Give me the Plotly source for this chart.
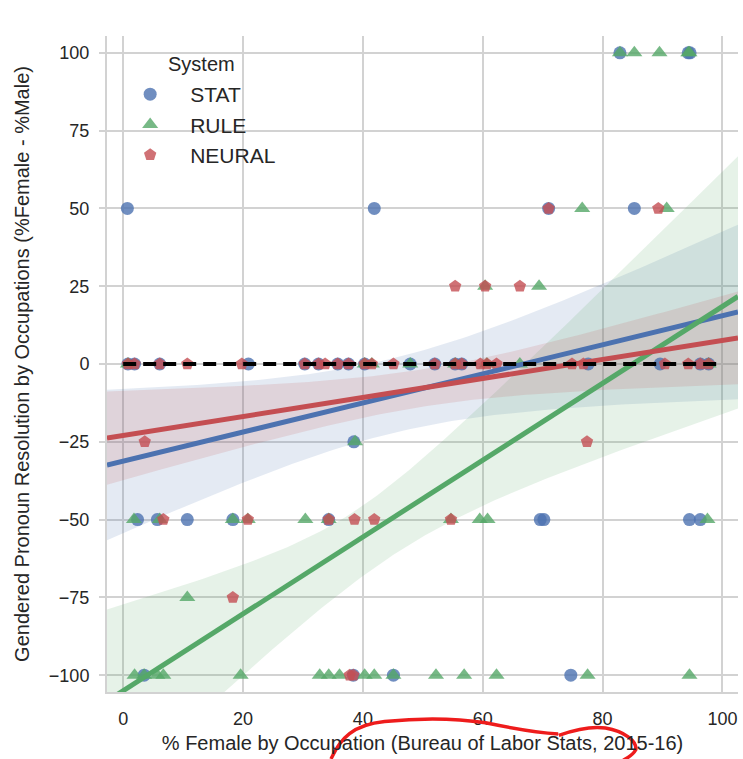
import numpy as np
import plotly.graph_objects as go

# ---------------- data ----------------
systems = ["STAT", "RULE", "NEURAL"]
legend_title = "System"

stat_x = [82.9, 94.3, 94.6,
          0.7, 41.9, 71.0, 85.3,
          0.8, 1.9, 6.1, 20.9, 30.3, 32.6, 35.8, 37.6, 40.3, 47.9, 52.0, 55.4, 56.5, 77.6, 89.6, 96.3, 97.7,
          38.5,
          2.4, 5.7, 10.7, 18.3, 34.3, 69.6, 70.2, 94.5, 96.3,
          3.5, 38.4, 45.1, 74.7]
stat_y = [100, 100, 100,
          50, 50, 50, 50,
          0, 0, 0, 0, 0, 0, 0, 0, 0, 0, 0, 0, 0, 0, 0, 0, 0,
          -25,
          -50, -50, -50, -50, -50, -50, -50, -50, -50,
          -100, -100, -100, -100]

rule_x = [82.9, 85.3, 89.5, 94.3, 94.5,
          76.6, 90.7,
          60.4, 69.4,
          0.8, 40.3, 41.5, 47.9, 55.4, 60.7, 66.2, 97.7,
          38.7,
          1.8, 6.1, 18.3, 20.8, 30.4, 34.3, 54.7, 59.5, 60.8, 97.5,
          10.7,
          1.9, 3.5, 5.7, 6.7, 19.6, 32.8, 34.3, 36.1, 40.3, 41.9, 45.1, 52.2, 56.9, 62.3, 77.5, 94.5]
rule_y = [100, 100, 100, 100, 100,
          50, 50,
          25, 25,
          0, 0, 0, 0, 0, 0, 0, 0,
          -25,
          -50, -50, -50, -50, -50, -50, -50, -50, -50, -50,
          -75,
          -100, -100, -100, -100, -100, -100, -100, -100, -100, -100, -100, -100, -100, -100, -100, -100]

neural_x = [71.0, 89.3,
            55.4, 60.4, 66.2,
            0.8, 1.9, 6.1, 10.7, 19.8, 30.3, 32.6, 33.7, 35.8, 37.6, 40.3, 41.5, 45.1, 52.0, 55.4, 56.5,
            59.6, 60.7, 62.3, 74.9, 76.8, 90.4, 94.3, 96.3, 97.7,
            3.6, 77.4,
            6.7, 20.8, 34.3, 38.6, 41.9, 54.7,
            18.3,
            37.8, 38.4]
neural_y = [50, 50,
            25, 25, 25,
            0, 0, 0, 0, 0, 0, 0, 0, 0, 0, 0, 0, 0, 0, 0, 0,
            0, 0, 0, 0, 0, 0, 0, 0, 0,
            -25, -25,
            -50, -50, -50, -50, -50, -50,
            -75,
            -100, -100]

# regression fit: intercept, slope
fit_intercept = [-31.2, -105.0, -23.0]
fit_slope = [0.467, 1.235, 0.306]
# confidence band (upper / lower edge): centre, min half-width, growth
band_up_center = [45.0, 38.0, 50.0]
band_up_min = [12.0, 10.0, 6.0]
band_up_growth = [0.44, 0.68, 0.26]
band_lo_center = [45.0, 46.0, 50.0]
band_lo_min = [12.0, 12.0, 6.0]
band_lo_growth = [0.44, 0.60, 0.26]

ref_line_x = [0, 100]
ref_line_y = [0, 0]

x_range = [-2.7, 102.6]
y_range = [-105.4, 105.4]
x_ticks = [0, 20, 40, 60, 80, 100]
y_ticks = [100, 75, 50, 25, 0, -25, -50, -75, -100]

colors = ["#4C72B0", "#55A868", "#C44E52"]
symbols = ["circle", "triangle-up", "pentagon"]
sizes = [13, 14, 13]
fills = ["rgba(76,114,176,0.15)", "rgba(85,168,104,0.15)", "rgba(196,78,82,0.15)"]

xs_data = [stat_x, rule_x, neural_x]
ys_data = [stat_y, rule_y, neural_y]

FONT = "Liberation Sans, Arial, sans-serif"
fig = go.Figure()

xg = np.linspace(x_range[0], x_range[1], 120)
lines = []
for i, name in enumerate(systems):
    line = fit_intercept[i] + fit_slope[i] * xg
    lines.append(line)
    hw_up = np.sqrt(band_up_min[i] ** 2 + (band_up_growth[i] * (xg - band_up_center[i])) ** 2)
    hw_lo = np.sqrt(band_lo_min[i] ** 2 + (band_lo_growth[i] * (xg - band_lo_center[i])) ** 2)
    fig.add_trace(go.Scatter(
        x=np.concatenate([xg, xg[::-1]]),
        y=np.concatenate([line + hw_up, (line - hw_lo)[::-1]]),
        fill="toself", fillcolor=fills[i], line=dict(width=0), mode="lines",
        hoverinfo="skip", showlegend=False))

for i, name in enumerate(systems):
    fig.add_trace(go.Scatter(
        x=xs_data[i], y=ys_data[i], mode="markers", name=name,
        marker=dict(symbol=symbols[i], size=sizes[i], color=colors[i], opacity=0.8,
                    line=dict(width=0)),
        showlegend=True))

for i, name in enumerate(systems):
    fig.add_trace(go.Scatter(
        x=xg, y=lines[i], mode="lines", line=dict(color=colors[i], width=5),
        showlegend=False))

fig.add_trace(go.Scatter(
    x=ref_line_x, y=ref_line_y, mode="lines",
    line=dict(color="black", width=4, dash="13px,7px"), showlegend=False))

# hand-drawn red mark on the original picture
scribble = ("M 0.355 -0.102 C 0.37 -0.07, 0.39 -0.05, 0.44 -0.045 "
            "C 0.50 -0.039, 0.56 -0.041, 0.60 -0.047 C 0.64 -0.055, 0.68 -0.062, 0.715 -0.064 "
            "M 0.716 -0.066 C 0.74 -0.058, 0.77 -0.052, 0.79 -0.055 "
            "C 0.82 -0.060, 0.84 -0.075, 0.838 -0.088 C 0.834 -0.095, 0.826 -0.100, 0.818 -0.104")
fig.add_shape(type="path", path=scribble, xref="paper", yref="paper",
              line=dict(color="#ee1c1c", width=3.5), layer="above")

# legend title
fig.add_annotation(text=legend_title, xref="paper", yref="paper", x=0.149, y=0.957,
                   xanchor="center", yanchor="middle", showarrow=False,
                   font=dict(size=20, color="#262626", family=FONT))

axis_common = dict(showgrid=True, gridcolor="#d2d2d2", gridwidth=2, zeroline=False,
                   showline=True, linecolor="#d2d2d2", linewidth=2,
                   tickfont=dict(size=18, color="#262626", family=FONT))

fig.update_layout(
    width=743, height=759,
    margin=dict(l=107, r=5, t=36, b=67),
    plot_bgcolor="white", paper_bgcolor="white",
    font=dict(family=FONT, color="#262626"),
    xaxis=dict(range=x_range, tickvals=x_ticks, ticks="", ticklabelstandoff=9,
               title=dict(text="% Female by Occupation (Bureau of Labor Stats, 2015-16)",
                          font=dict(size=20, color="#262626"), standoff=8),
               **axis_common),
    yaxis=dict(range=y_range, tickvals=y_ticks, ticks="outside", ticklen=6,
               tickcolor="#d2d2d2", tickwidth=2, ticklabelstandoff=6,
               title=dict(text="Gendered Pronoun Resolution by Occupations (%Female - %Male)",
                          font=dict(size=20, color="#262626"), standoff=14),
               **axis_common),
    legend=dict(x=0.005, y=0.942, xanchor="left", yanchor="top",
                bgcolor="rgba(0,0,0,0)", itemwidth=70,
                font=dict(size=21, color="#262626"), tracegroupgap=0),
)

fig.write_html("out.html", config={"displayModeBar": False},
               post_script="document.body.style.margin='0px';document.body.style.overflow='hidden';")
